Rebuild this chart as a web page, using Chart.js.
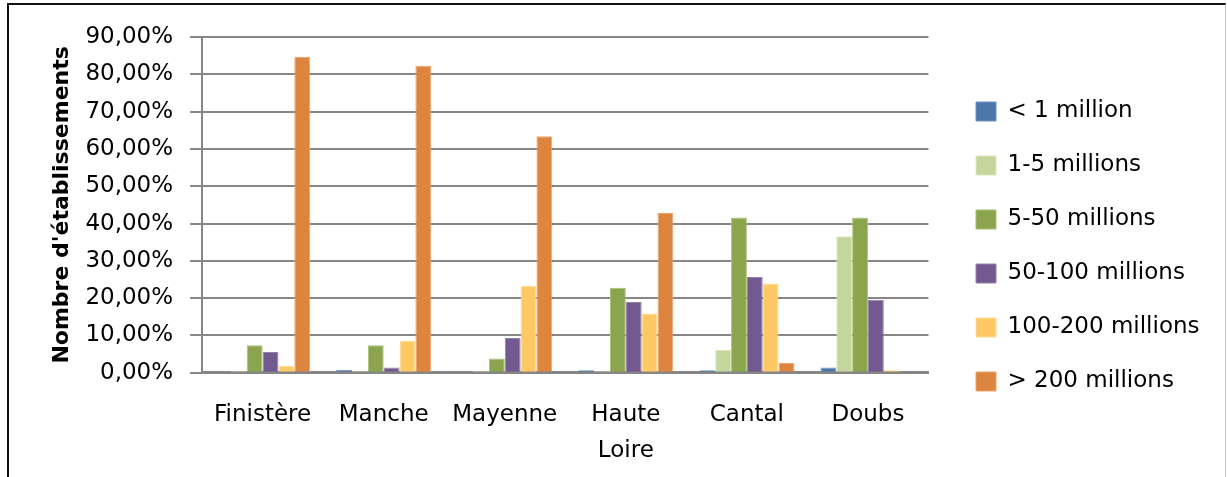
<!DOCTYPE html>
<html>
<head>
<meta charset="utf-8">
<script src="https://cdn.jsdelivr.net/npm/chart.js@4.4.1/dist/chart.umd.min.js"></script>
<style>
  html, body { margin: 0; padding: 0; background: #fff; }
  #wrap { position: relative; width: 1227px; height: 477px; overflow: hidden; }
  #c { position: absolute; left: 0; top: 0; }
  #frame {
    position: absolute; left: 7px; top: 3px; width: 1219px; height: 520px;
    border-top: 2px solid #111; border-left: 2px solid #111; border-right: 1px solid #c8c8c8;
    box-sizing: border-box; pointer-events: none;
  }
</style>
</head>
<body>
<div id="wrap">
  <canvas id="c" width="1227" height="477"></canvas>
  <div id="frame"></div>
</div>
<script>
// Departments on the category axis
const departements = ['Finistère', 'Manche', 'Mayenne', ['Haute', 'Loire'], 'Cantal', 'Doubs'];

// Share of establishments (%) per size class
const moins1M   = [0.0, 0.8, 0.0, 0.7, 0.7, 1.4];
const de1a5M    = [0.5, 0.5, 0.5, 0.5, 6.2, 36.6];
const de5a50M   = [7.4, 7.4, 3.8, 22.8, 41.6, 41.6];
const de50a100M = [5.6, 1.4, 9.3, 19.0, 25.7, 19.6];
const de100a200M = [1.9, 8.6, 23.3, 15.9, 23.9, 0.7];
const plus200M  = [84.7, 82.3, 63.4, 42.8, 2.6, 0.0];

const classes = ['< 1 million', '1-5 millions', '5-50 millions', '50-100 millions', '100-200 millions', '> 200 millions'];

// Y axis ticks
const yMin = 0, yMax = 90, yStep = 10;

const fills   = ['#4a76a9', '#c4d69c', '#8aa54d', '#72598f', '#fec964', '#dd843f'];
const borders = ['#6f94c2', '#d9e6bd', '#a9c077', '#9580ad', '#ffdc95', '#eda46b'];
const series  = [moins1M, de1a5M, de5a50M, de50a100M, de100a200M, plus200M];

const FONT = 'DejaVu Sans';

// Places the legend block beside the plot
const legendPlacer = {
  id: 'legendPlacer',
  afterLayout(chart) {
    const lg = chart.legend;
    const pad = lg.options.labels.padding;
    const w = lg.width;
    lg.left = 976 - pad;
    lg.right = lg.left + w;
    lg.top = 100 - pad;
    lg.bottom = 477;
    lg.height = lg.bottom - lg.top;
  }
};

new Chart(document.getElementById('c'), {
  type: 'bar',
  data: {
    labels: departements,
    datasets: series.map((d, i) => ({
      label: classes[i],
      data: d,
      backgroundColor: fills[i],
      borderColor: borders[i],
      borderWidth: 1,
      borderSkipped: 'start',
      barPercentage: 1.0,
      categoryPercentage: 0.785
    }))
  },
  options: {
    responsive: false,
    animation: false,
    devicePixelRatio: 1,
    layout: { padding: { left: 41, right: 34, top: 37, bottom: -16 } },
    plugins: {
      tooltip: { enabled: false },
      legend: {
        position: 'right',
        align: 'start',
        labels: {
          color: '#000',
          font: { family: FONT, size: 23 },
          boxWidth: 20,
          boxHeight: 19,
          padding: 31
        }
      }
    },
    scales: {
      x: {
        grid: { display: false, drawTicks: false },
        border: { display: true, color: '#868686', width: 3 },
        ticks: {
          color: '#000',
          padding: 24,
          maxRotation: 0,
          autoSkip: false,
          font: { family: FONT, size: 23, lineHeight: 1.57 }
        }
      },
      y: {
        min: yMin,
        max: yMax,
        grid: { color: '#868686', lineWidth: 2, tickLength: 12, drawTicks: true },
        border: { display: true, color: '#868686', width: 2 },
        ticks: {
          stepSize: yStep,
          color: '#000',
          padding: 17,
          font: { family: FONT, size: 23 },
          callback: v => v.toFixed(2).replace('.', ',') + '%'
        },
        title: {
          display: true,
          text: "Nombre d'établissements",
          color: '#000',
          font: { family: FONT, size: 22, weight: 'bold', lineHeight: 1.2 },
          padding: { top: 8, bottom: -7 }
        }
      }
    }
  },
  plugins: [legendPlacer]
});
</script>
</body>
</html>
